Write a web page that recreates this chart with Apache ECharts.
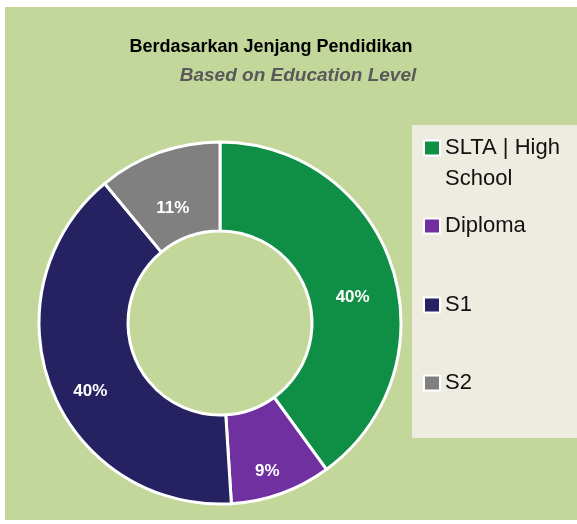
<!DOCTYPE html>
<html>
<head>
<meta charset="utf-8">
<script src="https://cdn.jsdelivr.net/npm/echarts@6/dist/echarts.min.js"></script>
<style>
  html, body { margin: 0; padding: 0; background: #fff; }
  #chart { width: 577px; height: 524px; }
</style>
</head>
<body>
<div id="chart"></div>
<script>
// data
const categories = ['SLTA | High School', 'Diploma', 'S1', 'S2'];
const legendLabels = ['SLTA | High', 'Diploma', 'S1', 'S2'];
const shares = [40, 9, 40, 11];
const colors = ['#0f8f45', '#7030a0', '#262262', '#808080'];
// center y of each legend row
const legendRows = [148, 226, 305, 383];

const chart = echarts.init(document.getElementById('chart'));

const legendFont = { fontFamily: 'Liberation Sans', fontSize: 22, color: '#111' };

const legends = categories.map((name, i) => ({
  data: [name],
  left: 418,
  top: legendRows[i] - 16 - 5,
  icon: 'rect',
  itemWidth: 16,
  itemHeight: 15,
  itemGap: 0,
  itemStyle: { borderColor: '#fff', borderWidth: 2 },
  selectedMode: false,
  formatter: () => legendLabels[i],
  textStyle: Object.assign({ lineHeight: 32 }, legendFont)
}));

chart.setOption({
  backgroundColor: '#fff',
  color: colors,
  animation: false,
  graphic: [
    { type: 'rect', shape: { x: 5, y: 7, width: 572, height: 513 }, style: { fill: '#c4d79b' }, z: -10 },
    { type: 'rect', shape: { x: 412, y: 125, width: 165, height: 313 }, style: { fill: '#eeece1' }, z: -5 },
    // second line of the first legend entry
    {
      type: 'text', left: 445, top: 180 - 12,
      style: { text: 'School', font: '22px "Liberation Sans"', fill: '#111' }
    }
  ],
  title: [
    {
      text: 'Berdasarkan Jenjang Pendidikan',
      left: 266, top: 33, textAlign: 'center',
      textStyle: { fontFamily: 'Liberation Sans', fontSize: 18, fontWeight: 'bold', color: '#000' }
    },
    {
      text: 'Based on Education Level',
      left: 293, top: 61, textAlign: 'center',
      textStyle: { fontFamily: 'Liberation Sans', fontSize: 19, fontWeight: 'bold', fontStyle: 'italic', color: '#595959' }
    }
  ],
  legend: legends,
  series: [{
    type: 'pie',
    center: [220, 323],
    radius: [92, 181],
    startAngle: 90,
    clockwise: true,
    itemStyle: { borderColor: '#fff', borderWidth: 3 },
    label: {
      position: 'inside',
      formatter: '{d}%',
      color: '#fff',
      fontFamily: 'Liberation Sans',
      fontWeight: 'bold',
      fontSize: 17,
      offset: [0, 17]
    },
    labelLine: { show: false },
    emphasis: { disabled: true },
    data: categories.map((name, i) => ({ name, value: shares[i] }))
  }]
});
</script>
</body>
</html>
